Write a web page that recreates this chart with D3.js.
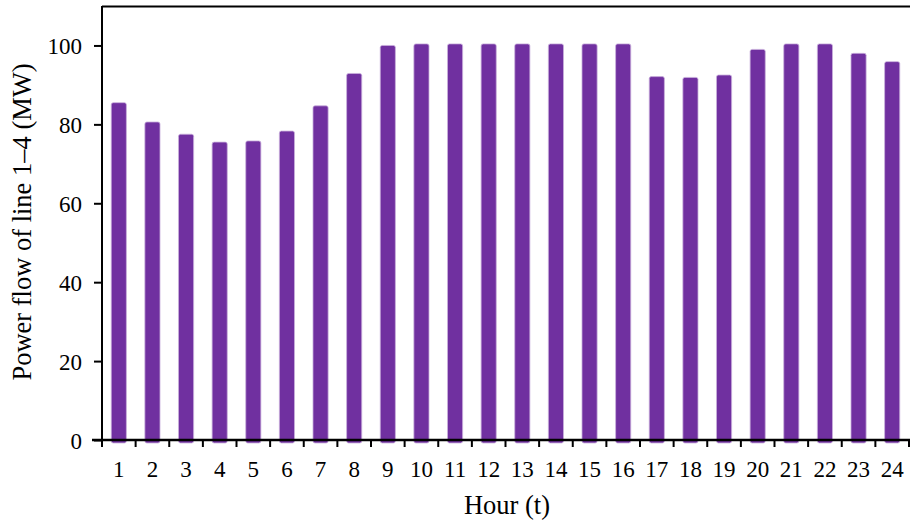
<!DOCTYPE html>
<html><head><meta charset="utf-8">
<script src="https://cdn.jsdelivr.net/npm/d3@7"></script>
<style>body{margin:0;background:#fff}svg{display:block}text{font-family:"Liberation Serif","Times New Roman",serif;fill:#000}</style>
</head><body><svg id="c" width="910" height="525"></svg>
<script>
const hours = ["1","2","3","4","5","6","7","8","9","10","11","12","13","14","15","16","17","18","19","20","21","22","23","24"];
const powerFlow = [85.5,80.6,77.5,75.5,75.8,78.3,84.7,92.9,100.0,100.4,100.4,100.4,100.4,100.4,100.4,100.4,92.1,91.9,92.5,99.0,100.4,100.4,98.0,95.9];
const yTicks = [0,20,40,60,80,100];
const xTitle = "Hour (t)";
const yTitle = "Power flow of line 1–4 (MW)";

const svg = d3.select("#c");
const L = 102, R = 909, T = 6, B = 440;
const x = d3.scaleBand().domain(hours).range([L, R]).paddingInner(0.55).paddingOuter(0.275);
const xb = d3.scaleBand().domain(hours).range([L, R]);
const y = d3.scaleLinear().domain([0,110]).range([B, T]);

// bars
svg.append("g").selectAll("rect").data(powerFlow).join("rect")
  .attr("x",(d,i)=>x(hours[i]))
  .attr("y",d=>y(d))
  .attr("width",x.bandwidth())
  .attr("height",d=>B-y(d)+3)
  .attr("rx",2)
  .attr("fill","#7030A0")
  .attr("stroke","#c9b0dc").attr("stroke-width",0.8);

// top border
svg.append("line").attr("x1",L).attr("x2",910).attr("y1",T+0.5).attr("y2",T+0.5)
  .attr("stroke","#000").attr("stroke-width",2);

// y axis
const ya = svg.append("g").attr("transform",`translate(${L},0)`)
  .call(d3.axisLeft(y).tickValues(yTicks).tickSize(8).tickPadding(12));
ya.select(".domain").attr("d",`M0,${T}V${B}`).attr("stroke-width",2);
ya.selectAll(".tick line").attr("stroke-width",2);
ya.selectAll("text").style("font-size","23px").attr("dy","0.35em");

// x axis with ticks at band boundaries
const xa = svg.append("g").attr("transform",`translate(0,${B})`);
xa.append("line").attr("x1",L-10).attr("x2",910).attr("stroke","#000").attr("stroke-width",2.5);
const bounds = hours.map(h=>xb(h)).concat([R]);
xa.selectAll(".bt").data(bounds).join("line").attr("class","bt")
  .attr("x1",d=>d).attr("x2",d=>d).attr("y1",0).attr("y2",7)
  .attr("stroke","#000").attr("stroke-width",2);
xa.selectAll(".lab").data(hours).join("text").attr("class","lab")
  .attr("x",d=>xb(d)+xb.bandwidth()/2).attr("y",36.5)
  .attr("text-anchor","middle").style("font-size","23px").text(d=>d);

// titles
svg.append("text").attr("x",507).attr("y",514).attr("text-anchor","middle")
  .style("font-size","26.5px").text(xTitle);
svg.append("text").attr("transform","translate(31,222) rotate(-90)").attr("text-anchor","middle")
  .style("font-size","26.5px").text(yTitle);
</script></body></html>
